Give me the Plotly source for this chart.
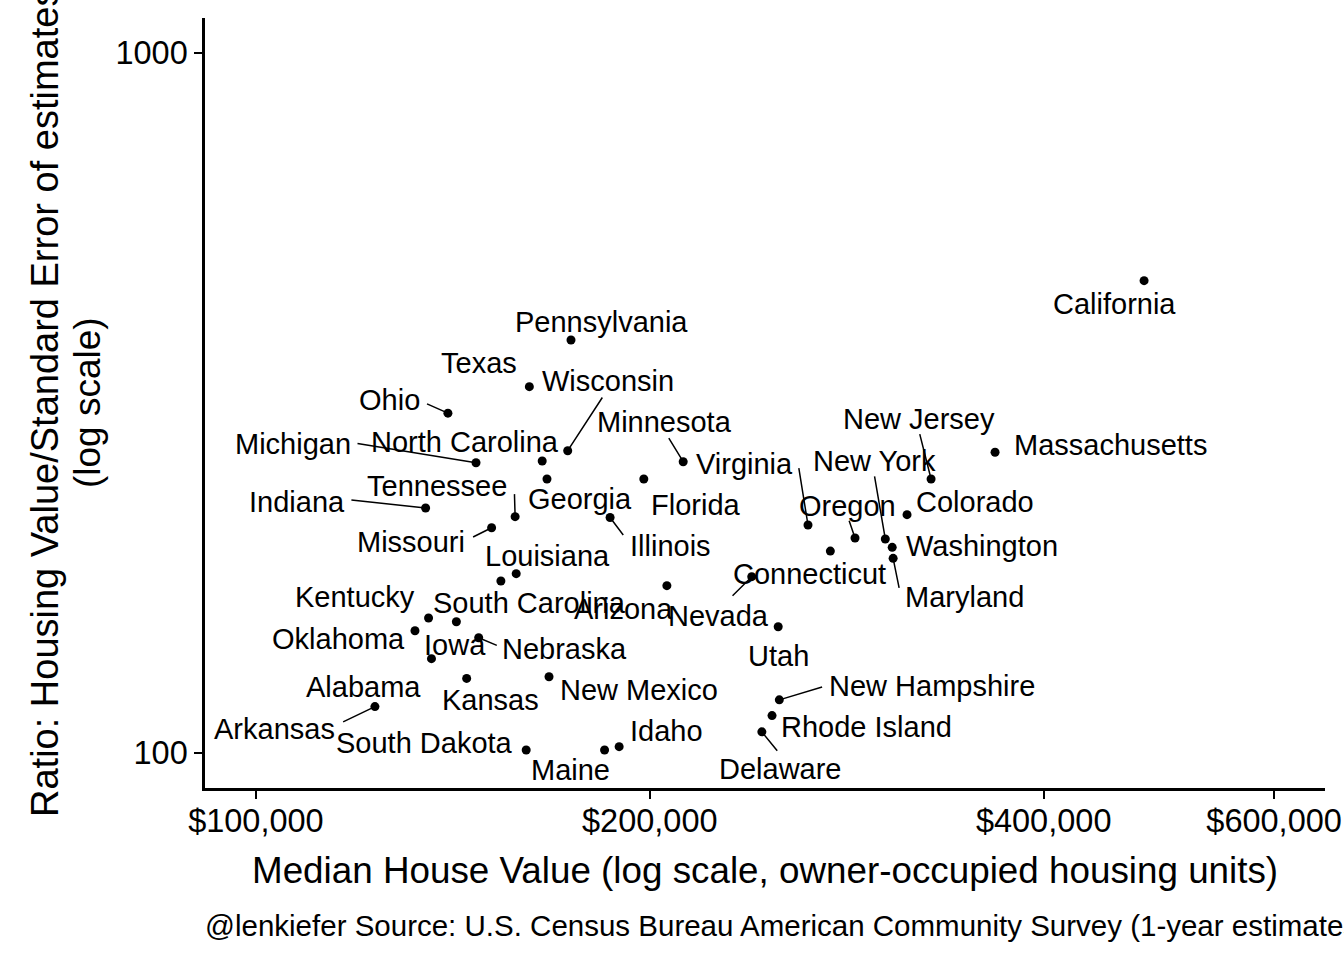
import numpy as np
import plotly.graph_objects as go

# ---------------- data ----------------
states = [
    "California", "Pennsylvania", "Texas", "Ohio", "Wisconsin", "Massachusetts",
    "Minnesota", "North Carolina", "Michigan", "Georgia", "Florida", "New Jersey",
    "Indiana", "Colorado", "Tennessee", "Illinois", "Virginia", "Missouri",
    "Oregon", "New York", "Washington", "Connecticut", "Maryland", "Louisiana",
    "Nevada", "South Carolina", "Arizona", "Kentucky", "Iowa", "Utah",
    "Oklahoma", "Nebraska", "Alabama", "New Mexico", "Kansas", "New Hampshire",
    "Arkansas", "Rhode Island", "Delaware", "Idaho", "South Dakota", "Maine",
]
median_value = [
    477300, 174100, 161800, 140200, 173100, 367200,
    212100, 165500, 147300, 166900, 197900, 328100,
    134800, 314500, 157800, 186500, 264200, 151400,
    287000, 302700, 306400, 274800, 306900, 158100,
    239300, 153900, 206100, 135500, 142300, 250700,
    132300, 148000, 136200, 167500, 144900, 251200,
    123300, 248000, 243600, 189500, 160900, 184700,
]
ratio = [
    472.9, 389.0, 333.7, 305.8, 270.3, 268.9,
    260.7, 261.3, 259.8, 246.3, 246.3, 246.3,
    223.9, 219.0, 217.6, 217.0, 211.7, 209.8,
    202.8, 202.2, 196.7, 194.3, 189.7, 180.4,
    178.6, 176.1, 173.4, 155.9, 154.0, 151.5,
    149.5, 146.1, 136.4, 128.5, 127.8, 119.1,
    116.5, 113.1, 107.2, 102.1, 101.0, 101.0,
]

x_limits = [100000, 600000]
y_limits = [100, 1000]
x_tickvals = [100000, 200000, 400000, 600000]
x_ticktext = ["$100,000", "$200,000", "$400,000", "$600,000"]
y_tickvals = [100, 1000]
y_ticktext = ["100", "1000"]

x_title = "Median House Value (log scale, owner-occupied housing units)"
y_title_lines = ["Ratio: Housing Value/Standard Error of estimates", "(log scale)"]
caption = "@lenkiefer Source: U.S. Census Bureau American Community Survey (1-year estimates)"

# ---------------- label layout (pixel offsets from each point, dx right, dy down) ----------------
label_offsets = {
    "California": (-29.5, 23), "Pennsylvania": (30.3, -18.3), "Texas": (-50.3, -23.9),
    "Ohio": (-58.7, -13), "Wisconsin": (39.8, -69.5), "Massachusetts": (115.3, -7.3),
    "Minnesota": (-18.3, -40), "North Carolina": (-77, -18.8), "Michigan": (-183, -18.4),
    "Georgia": (33.5, 20.2), "Florida": (52.6, 26), "New Jersey": (-12, -59.8),
    "Indiana": (-128.9, -6.3), "Colorado": (67.8, -12.9), "Tennessee": (-78, -30.9),
    "Illinois": (60, 28.6), "Virginia": (-63.9, -60.8), "Missouri": (-81, 13.8),
    "Oregon": (-7.2, -32.5), "New York": (-11.2, -78.2), "Washington": (89.5, -1),
    "Connecticut": (-21.3, 22.8), "Maryland": (71.5, 38.9), "Louisiana": (31.2, -17.9),
    "Nevada": (-32.9, 39.1), "South Carolina": (29, 21.8), "Arizona": (-42.9, 23.5),
    "Kentucky": (-74, -20.8), "Iowa": (-1.7, 23.3), "Utah": (0.7, 28.8),
    "Oklahoma": (-76.7, 8.1), "Nebraska": (86.3, 11), "Alabama": (-68.4, 28),
    "New Mexico": (90, 13), "Kansas": (23.8, 21.7), "New Hampshire": (153, -13.7),
    "Arkansas": (-100, 22), "Rhode Island": (94, 11.8), "Delaware": (19.1, 36.8),
    "Idaho": (47, -15.9), "South Dakota": (-101.3, -6.5), "Maine": (-33.9, 19.7),
}
# end of each repel segment (pixel offset from point)
segment_tails = {
    "Ohio": (-22.4, -10), "Wisconsin": (35.6, -54.7), "Minnesota": (-15.3, -25),
    "Michigan": (-120, -19.4), "New Jersey": (-11.7, -46.3), "Indiana": (-75.7, -8),
    "Tennessee": (-0.7, -24), "Illinois": (14.3, 19), "Virginia": (-9.4, -58.3),
    "Missouri": (-20, 10), "Oregon": (-6.4, -18.7), "New York": (-11, -64),
    "Maryland": (6.3, 31), "Nevada": (-20.7, 20.6), "Nebraska": (19.6, 8.3),
    "New Hampshire": (44.3, -13.3), "Arkansas": (-33.3, 16), "Delaware": (16.6, 20.3),
}

FONT = "Arial, Liberation Sans, sans-serif"

def expanded(lims, mult=0.05):
    lo, hi = np.log10(lims[0]), np.log10(lims[1])
    span = hi - lo
    return [lo - mult * span, hi + mult * span]

fig = go.Figure()
fig.add_trace(go.Scatter(
    x=median_value, y=ratio, mode="markers",
    marker=dict(color="black", size=9),
    hoverinfo="skip", showlegend=False,
))

annotations = []
for s, xv, yv in zip(states, median_value, ratio):
    lx, ly = np.log10(xv), np.log10(yv)
    if s in segment_tails:
        tx, ty = segment_tails[s]
        annotations.append(dict(
            x=lx, y=ly, xref="x", yref="y", text="", showarrow=True,
            ax=tx, ay=ty, axref="pixel", ayref="pixel",
            arrowhead=0, arrowwidth=1.5, arrowcolor="black",
            standoff=0, startstandoff=0,
        ))
    dx, dy = label_offsets[s]
    annotations.append(dict(
        x=lx, y=ly, xref="x", yref="y", text=s, showarrow=False,
        xshift=dx, yshift=-dy, xanchor="center", yanchor="middle",
        font=dict(family=FONT, size=29, color="black"),
    ))

# axis titles and caption
annotations.append(dict(
    x=0.5, y=0, xref="paper", yref="paper", text=x_title, showarrow=False,
    yshift=-82, xanchor="center", yanchor="middle",
    font=dict(family=FONT, size=36.8, color="black"),
))
annotations.append(dict(
    x=0, y=0.5, xref="paper", yref="paper", text=y_title_lines[0], showarrow=False,
    xshift=-160, textangle=-90, xanchor="center", yanchor="middle",
    font=dict(family=FONT, size=38, color="black"),
))
annotations.append(dict(
    x=0, y=0.5, xref="paper", yref="paper", text=y_title_lines[1], showarrow=False,
    xshift=-118, textangle=-90, xanchor="center", yanchor="middle",
    font=dict(family=FONT, size=37, color="black"),
))
annotations.append(dict(
    x=0, y=0, xref="paper", yref="paper", text=caption, showarrow=False,
    xshift=-2, yshift=-137, xanchor="left", yanchor="middle",
    font=dict(family=FONT, size=29.5, color="black"),
))

fig.update_layout(
    width=1344, height=960,
    margin=dict(l=205, r=19, t=18, b=172, pad=0, autoexpand=False),
    paper_bgcolor="white", plot_bgcolor="white",
    showlegend=False,
    annotations=annotations,
    xaxis=dict(
        type="log", range=expanded(x_limits), automargin=False,
        tickvals=x_tickvals, ticktext=x_ticktext,
        showgrid=False, zeroline=False,
        showline=True, linecolor="black", linewidth=2.5,
        ticks="outside", ticklen=8, tickwidth=2, tickcolor="black",
        ticklabelstandoff=-6,
        tickfont=dict(family=FONT, size=32.5, color="black"),
    ),
    yaxis=dict(
        type="log", range=expanded(y_limits), automargin=False,
        tickvals=y_tickvals, ticktext=y_ticktext,
        showgrid=False, zeroline=False,
        showline=True, linecolor="black", linewidth=2.5,
        ticks="outside", ticklen=8, tickwidth=2, tickcolor="black",
        tickfont=dict(family=FONT, size=32.5, color="black"),
    ),
)

fig.write_html("out.html")
